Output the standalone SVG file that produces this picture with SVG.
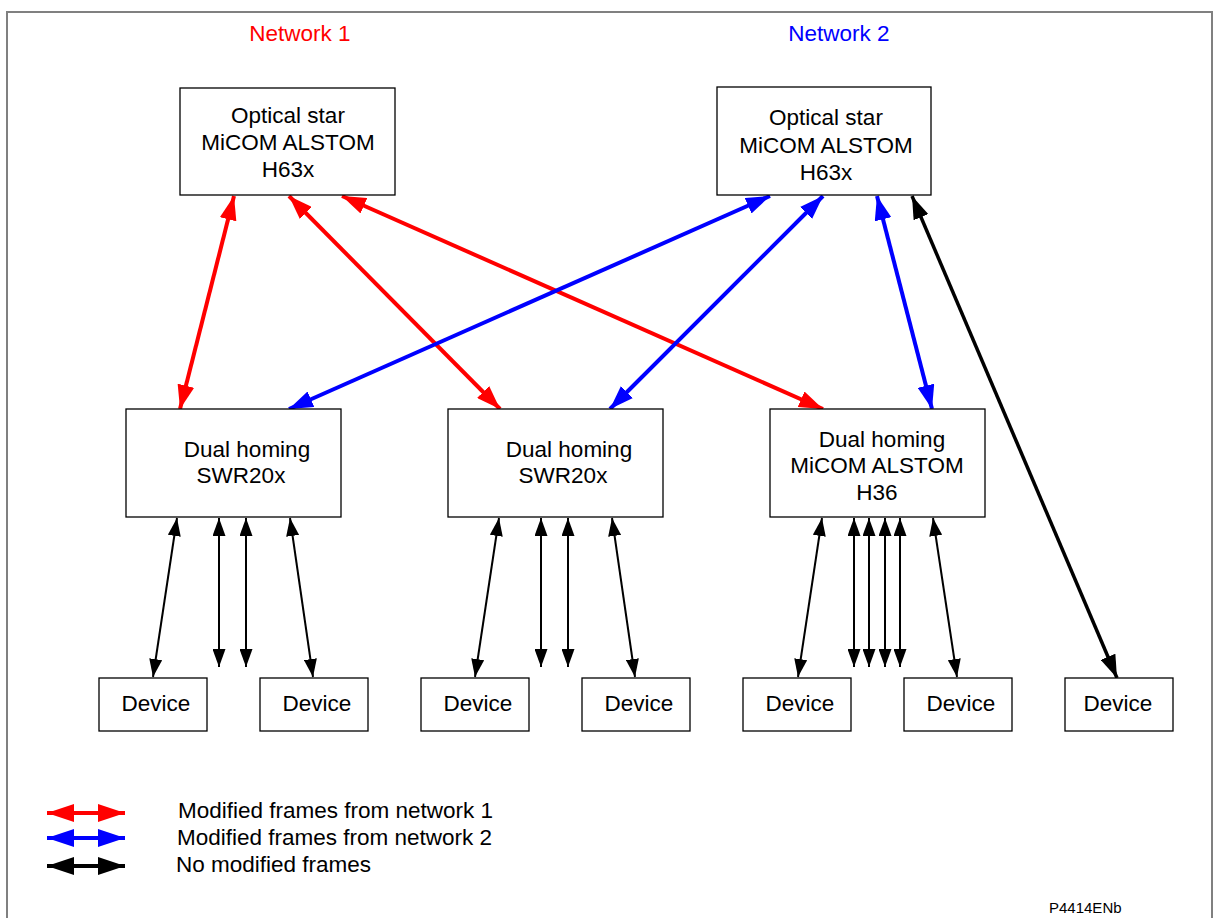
<svg xmlns="http://www.w3.org/2000/svg" width="1219" height="918" viewBox="0 0 1219 918">
  <style>
    text { font-family: "Liberation Sans", Arial, sans-serif; font-size: 22.5px; fill: #000; }
    .c { text-anchor: middle; }
    .box { fill: #fff; stroke: #000; stroke-width: 1.3; }
    .red { stroke: #ff0000; stroke-width: 4; fill: none; marker-start: url(#hRed); marker-end: url(#hRed); }
    .blue { stroke: #0000ff; stroke-width: 4; fill: none; marker-start: url(#hBlue); marker-end: url(#hBlue); }
    .blk { stroke: #000; stroke-width: 3.5; fill: none; marker-start: url(#hBlkL); marker-end: url(#hBlkL); }
    .sm { stroke: #000; stroke-width: 2; fill: none; marker-start: url(#hBlk); marker-end: url(#hBlk); }
  </style>
  <defs>
    <marker id="hRed" markerUnits="userSpaceOnUse" viewBox="0 0 24 17" refX="24" refY="8.5" markerWidth="24" markerHeight="17" orient="auto-start-reverse">
      <path d="M0,0 L24,8.5 L0,17 z" fill="#ff0000"/>
    </marker>
    <marker id="hBlue" markerUnits="userSpaceOnUse" viewBox="0 0 24 17" refX="24" refY="8.5" markerWidth="24" markerHeight="17" orient="auto-start-reverse">
      <path d="M0,0 L24,8.5 L0,17 z" fill="#0000ff"/>
    </marker>
    <marker id="hBlkL" markerUnits="userSpaceOnUse" viewBox="0 0 23 16" refX="23" refY="8" markerWidth="23" markerHeight="16" orient="auto-start-reverse">
      <path d="M0,0 L23,8 L0,16 z" fill="#000"/>
    </marker>
    <marker id="hBlk" markerUnits="userSpaceOnUse" viewBox="0 0 18 13" refX="18" refY="6.5" markerWidth="18" markerHeight="13" orient="auto-start-reverse">
      <path d="M0,0 L18,6.5 L0,13 z" fill="#000"/>
    </marker>
    <marker id="lgRed" markerUnits="userSpaceOnUse" viewBox="0 0 27 18" refX="27" refY="9" markerWidth="27" markerHeight="18" orient="auto-start-reverse">
      <path d="M0,0 L27,9 L0,18 z" fill="#ff0000"/>
    </marker>
    <marker id="lgBlue" markerUnits="userSpaceOnUse" viewBox="0 0 27 18" refX="27" refY="9" markerWidth="27" markerHeight="18" orient="auto-start-reverse">
      <path d="M0,0 L27,9 L0,18 z" fill="#0000ff"/>
    </marker>
    <marker id="lgBlk" markerUnits="userSpaceOnUse" viewBox="0 0 27 18" refX="27" refY="9" markerWidth="27" markerHeight="18" orient="auto-start-reverse">
      <path d="M0,0 L27,9 L0,18 z" fill="#000"/>
    </marker>
  </defs>

  <rect width="1219" height="918" fill="#fff"/>
  <!-- outer frame -->
  <rect x="7" y="12" width="1205" height="930" fill="none" stroke="#808080" stroke-width="2"/>

  <text x="300" y="41" class="c" style="fill:#ff0000">Network 1</text>
  <text x="839" y="41" class="c" style="fill:#0000ff">Network 2</text>

  <!-- connectors -->
  <g id="connectors">
    <line class="red" x1="234" y1="196" x2="180" y2="409"/>
    <line class="red" x1="289" y1="196" x2="500" y2="409"/>
    <line class="red" x1="342" y1="196" x2="823" y2="409"/>
    <line class="blue" x1="770" y1="196" x2="289" y2="409"/>
    <line class="blue" x1="823" y1="196" x2="610" y2="409"/>
    <line class="blue" x1="877" y1="196" x2="932" y2="409"/>
    <line class="blk" x1="912" y1="196" x2="1117" y2="678"/>

    <line class="sm" x1="177" y1="518" x2="153" y2="677"/>
    <line class="sm" x1="219" y1="518" x2="219" y2="667"/>
    <line class="sm" x1="246" y1="518" x2="246" y2="667"/>
    <line class="sm" x1="290" y1="518" x2="313" y2="677"/>

    <line class="sm" x1="499" y1="518" x2="475" y2="677"/>
    <line class="sm" x1="541" y1="518" x2="541" y2="667"/>
    <line class="sm" x1="568" y1="518" x2="568" y2="667"/>
    <line class="sm" x1="612" y1="518" x2="635" y2="677"/>

    <line class="sm" x1="822" y1="518" x2="798" y2="677"/>
    <line class="sm" x1="854" y1="518" x2="854" y2="667"/>
    <line class="sm" x1="869" y1="518" x2="869" y2="667"/>
    <line class="sm" x1="885" y1="518" x2="885" y2="667"/>
    <line class="sm" x1="900" y1="518" x2="900" y2="667"/>
    <line class="sm" x1="933" y1="518" x2="957" y2="677"/>
  </g>

  <!-- optical stars -->
  <g id="star1">
    <rect class="box" x="180" y="88" width="215" height="107"/>
    <text x="288" y="123" class="c">Optical star</text>
    <text x="288" y="150" class="c">MiCOM ALSTOM</text>
    <text x="288" y="177" class="c">H63x</text>
  </g>
  <g id="star2">
    <rect class="box" x="717" y="87" width="214" height="108"/>
    <text x="826" y="125" class="c">Optical star</text>
    <text x="826" y="153" class="c">MiCOM ALSTOM</text>
    <text x="826" y="180" class="c">H63x</text>
  </g>

  <!-- dual homing switches -->
  <g id="swr1">
    <rect class="box" x="126" y="409" width="215" height="108"/>
    <text x="247" y="457" class="c">Dual homing</text>
    <text x="241" y="483" class="c">SWR20x</text>
  </g>
  <g id="swr2">
    <rect class="box" x="448" y="409" width="215" height="108"/>
    <text x="569" y="457" class="c">Dual homing</text>
    <text x="563" y="483" class="c">SWR20x</text>
  </g>
  <g id="h36">
    <rect class="box" x="770" y="409" width="215" height="108"/>
    <text x="882" y="447" class="c">Dual homing</text>
    <text x="877" y="473" class="c">MiCOM ALSTOM</text>
    <text x="877" y="500" class="c">H36</text>
  </g>

  <!-- end devices -->
  <g id="dev1"><rect class="box" x="99" y="678" width="108" height="53"/><text x="156" y="711" class="c">Device</text></g>
  <g id="dev2"><rect class="box" x="260" y="678" width="108" height="53"/><text x="317" y="711" class="c">Device</text></g>
  <g id="dev3"><rect class="box" x="421" y="678" width="108" height="53"/><text x="478" y="711" class="c">Device</text></g>
  <g id="dev4"><rect class="box" x="582" y="678" width="108" height="53"/><text x="639" y="711" class="c">Device</text></g>
  <g id="dev5"><rect class="box" x="743" y="678" width="108" height="53"/><text x="800" y="711" class="c">Device</text></g>
  <g id="dev6"><rect class="box" x="904" y="678" width="108" height="53"/><text x="961" y="711" class="c">Device</text></g>
  <g id="dev7"><rect class="box" x="1065" y="678" width="108" height="53"/><text x="1118" y="711" class="c">Device</text></g>

  <!-- legend -->
  <g id="legend">
    <line x1="47" y1="813" x2="125" y2="813" stroke="#ff0000" stroke-width="4" marker-start="url(#lgRed)" marker-end="url(#lgRed)"/>
    <line x1="47" y1="838" x2="125" y2="838" stroke="#0000ff" stroke-width="4" marker-start="url(#lgBlue)" marker-end="url(#lgBlue)"/>
    <line x1="47" y1="866" x2="125" y2="866" stroke="#000" stroke-width="4" marker-start="url(#lgBlk)" marker-end="url(#lgBlk)"/>
    <text x="178" y="818">Modified frames from network 1</text>
    <text x="177" y="845">Modified frames from network 2</text>
    <text x="176" y="872">No modified frames</text>
  </g>

  <text x="1049" y="913" style="font-size:15px">P4414ENb</text>
</svg>
